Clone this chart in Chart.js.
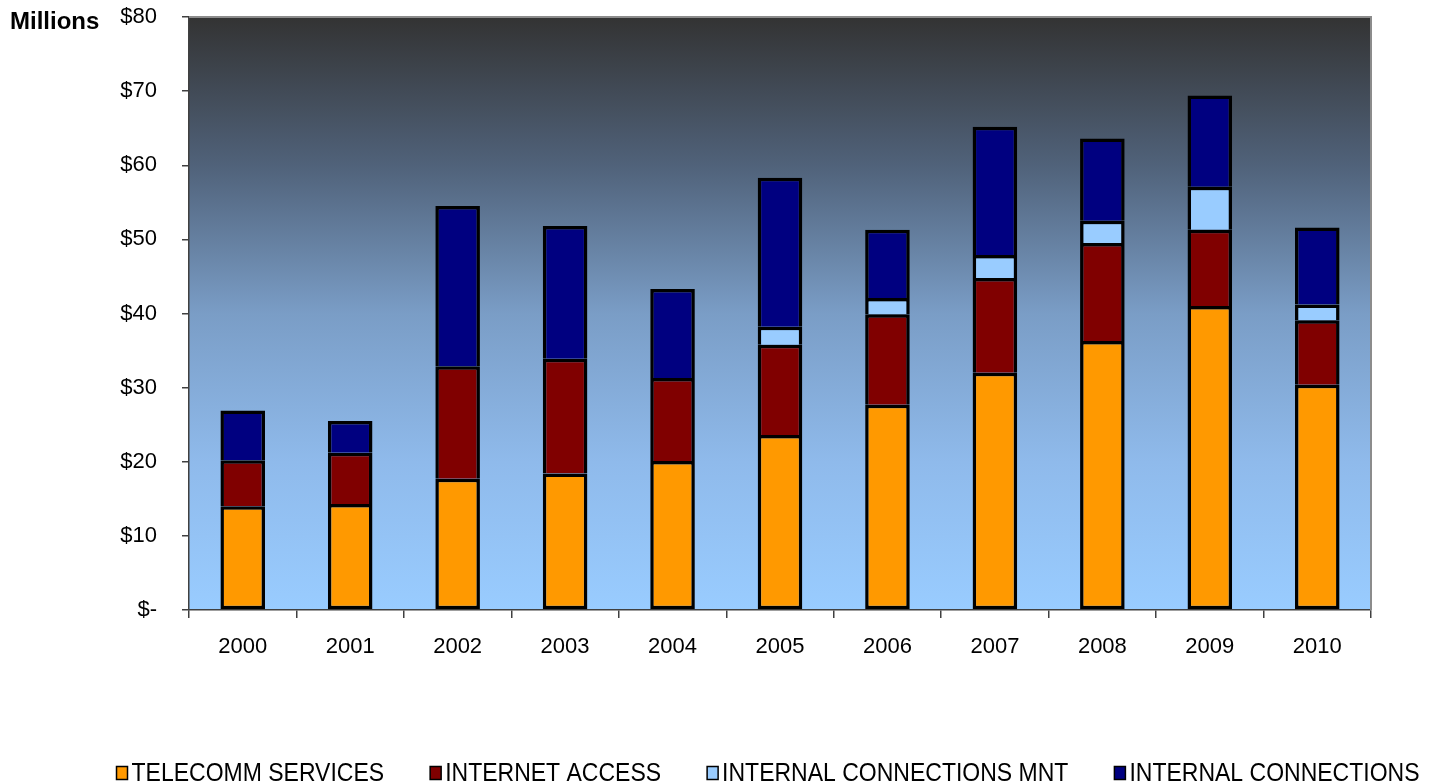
<!DOCTYPE html>
<html>
<head>
<meta charset="utf-8">
<script src="https://cdn.jsdelivr.net/npm/chart.js@4.4.1/dist/chart.umd.min.js"></script>
<style>
  html, body { margin: 0; padding: 0; background: #fff; }
  #wrap { width: 1439px; height: 782px; position: relative; }
</style>
</head>
<body>
<div id="wrap"><canvas id="chart"></canvas></div>
<script>
/* ---------- 데이터 (Millions) ---------- */
const years = ["2000", "2001", "2002", "2003", "2004", "2005", "2006", "2007", "2008", "2009", "2010"];
const telecomm = [14.0, 14.3, 17.7, 18.4, 20.1, 23.6, 27.7, 32.0, 36.3, 41.0, 30.4];
const internetAccess = [6.2, 6.9, 15.2, 15.5, 11.2, 12.2, 12.2, 12.8, 13.2, 10.3, 8.7];
const connectionsMnt = [null, null, null, null, null, 2.4, 2.2, 3.1, 3.0, 5.8, 2.1];
const connections = [6.7, 4.3, 21.6, 17.9, 12.0, 20.1, 9.2, 17.3, 11.1, 12.3, 10.4];
const yTicks = [0, 10, 20, 30, 40, 50, 60, 70, 80];

const FONT = "'Liberation Sans', Arial, sans-serif";

/* ---------- plot 배경 그라데이션 + 테두리 ---------- */
const plotBg = {
  id: "plotBg",
  beforeDraw(chart) {
    const { ctx, chartArea: a } = chart;
    const g = ctx.createLinearGradient(0, a.top, 0, a.bottom);
    g.addColorStop(0, "#333333");
    g.addColorStop(0.25, "#50627a");
    g.addColorStop(0.5, "#7a9dc6");
    g.addColorStop(0.75, "#8fbaeb");
    g.addColorStop(1, "#99ccff");
    ctx.save();
    ctx.fillStyle = g;
    ctx.fillRect(a.left, a.top, a.right - a.left, a.bottom - a.top);
    ctx.restore();
  },
  afterDraw(chart) {
    const { ctx, chartArea: a } = chart;
    ctx.save();
    ctx.strokeStyle = "#8c8c8c";
    ctx.lineWidth = 2;
    ctx.beginPath();
    ctx.moveTo(a.left, a.top);
    ctx.lineTo(a.right, a.top);
    ctx.lineTo(a.right, a.bottom);
    ctx.stroke();
    // "Millions"
    ctx.fillStyle = "#000";
    ctx.font = "bold 24px " + FONT;
    ctx.textBaseline = "middle";
    ctx.textAlign = "left";
    ctx.fillText("Millions", 10, 22);
    ctx.restore();
  }
};

/* ---------- 범례 ---------- */
const bottomLegend = {
  id: "bottomLegend",
  afterDraw(chart) {
    const { ctx } = chart;
    const sets = chart.data.datasets;
    const box = 11, boxH = 13, gapText = 4, gapItem = 46, y = 773;
    ctx.save();
    ctx.font = "23px " + FONT;
    const widths = sets.map(d => box + gapText + ctx.measureText(d.label).width);
    const total = widths.reduce((s, w) => s + w, 0) + gapItem * (sets.length - 1);
    let x = 768 - total / 2;
    sets.forEach((d, i) => {
      ctx.fillStyle = d.backgroundColor;
      ctx.fillRect(x, y - boxH / 2, box, boxH);
      ctx.strokeStyle = "#000";
      ctx.lineWidth = 1.5;
      ctx.strokeRect(x, y - boxH / 2, box, boxH);
      ctx.fillStyle = "#000";
      ctx.textBaseline = "middle";
      ctx.textAlign = "left";
      ctx.save();
      ctx.translate(x + box + gapText, y);
      ctx.scale(1, 1.1);
      ctx.fillText(d.label, 0, 1);
      ctx.restore();
      x += widths[i] + gapItem;
    });
    ctx.restore();
  }
};

const barCommon = { borderColor: "#000", borderWidth: 3.5, borderSkipped: "start", barPercentage: 0.415, categoryPercentage: 1 };

new Chart(document.getElementById("chart"), {
  type: "bar",
  data: {
    labels: years,
    datasets: [
      { label: "TELECOMM SERVICES", data: telecomm, backgroundColor: "#ff9900", ...barCommon, borderSkipped: false },
      { label: "INTERNET ACCESS", data: internetAccess, backgroundColor: "#800000", ...barCommon },
      { label: "INTERNAL CONNECTIONS MNT", data: connectionsMnt, backgroundColor: "#99ccff", ...barCommon },
      { label: "INTERNAL CONNECTIONS", data: connections, backgroundColor: "#000080", ...barCommon }
    ]
  },
  options: {
    responsive: true, maintainAspectRatio: false, animation: false,
    layout: { padding: { left: 0, right: 68, top: 17, bottom: 0 } },
    plugins: { legend: { display: false }, tooltip: { enabled: false } },
    scales: {
      x: {
        stacked: true,
        grid: { offset: true, drawOnChartArea: false, drawTicks: true, tickLength: 8, color: "#404040", lineWidth: 1.5 },
        border: { color: "#404040", width: 1.5 },
        ticks: { color: "#000", font: { family: FONT, size: 22 }, padding: 16, maxRotation: 0 },
        afterFit: s => { s.height = 172; s.paddingLeft = 0; s.paddingRight = 0; }
      },
      y: {
        stacked: true, min: 0, max: 80,
        afterBuildTicks: s => { s.ticks = yTicks.map(v => ({ value: v })); },
        grid: { drawOnChartArea: false, drawTicks: true, tickLength: 7, color: "#404040", lineWidth: 1.5 },
        border: { color: "#404040", width: 1.5 },
        ticks: {
          color: "#000", font: { family: FONT, size: 22 }, padding: 25,
          callback: v => v === 0 ? "$-" : "$" + v
        },
        afterFit: s => { s.width = 189; s.paddingTop = 0; s.paddingBottom = 0; }
      }
    }
  },
  plugins: [plotBg, bottomLegend]
});
</script>
</body>
</html>
